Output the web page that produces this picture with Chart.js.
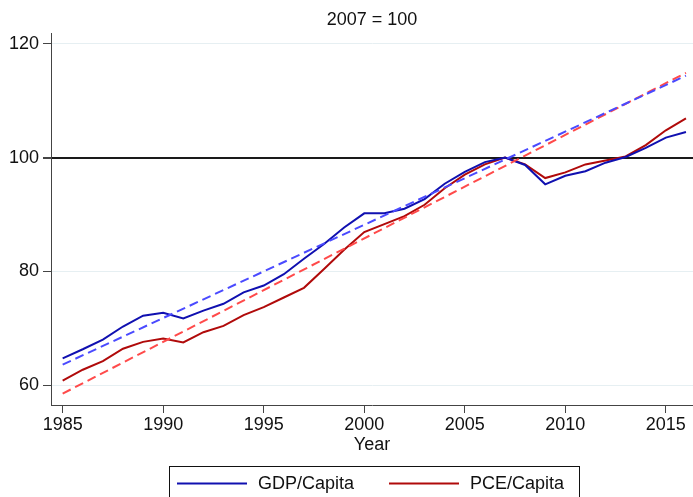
<!DOCTYPE html>
<html>
<head>
<meta charset="utf-8">
<script src="https://cdn.jsdelivr.net/npm/chart.js@4.4.1/dist/chart.umd.min.js"></script>
<style>
  body { margin: 0; background: #fff; }
  #wrap { width: 693px; height: 497px; }
</style>
</head>
<body>
<div id="wrap"><canvas id="chart" width="693" height="497"></canvas></div>
<script>
// Data (index, 2007 = 100)
const years = [1985, 1986, 1987, 1988, 1989, 1990, 1991, 1992, 1993, 1994,
               1995, 1996, 1997, 1998, 1999, 2000, 2001, 2002, 2003, 2004,
               2005, 2006, 2007, 2008, 2009, 2010, 2011, 2012, 2013, 2014,
               2015, 2016];
const gdpPerCapita = [64.7, 66.3, 68.0, 70.3, 72.2, 72.7, 71.7, 73.1, 74.3, 76.3,
                      77.5, 79.5, 82.2, 84.8, 87.7, 90.2, 90.2, 91.0, 92.7, 95.4,
                      97.5, 99.2, 100.0, 98.7, 95.3, 96.8, 97.6, 99.1, 100.1, 101.7,
                      103.5, 104.5];
const pcePerCapita = [60.8, 62.7, 64.2, 66.4, 67.6, 68.2, 67.5, 69.3, 70.4, 72.3,
                      73.7, 75.4, 77.1, 80.4, 83.8, 86.9, 88.3, 89.7, 91.7, 94.6,
                      97.0, 98.8, 100.0, 98.8, 96.4, 97.4, 98.8, 99.5, 100.2, 102.2,
                      104.8, 106.9];
// linear trend lines (end points)
const trendYears = [1985, 2016];
const gdpTrend = [63.6, 114.4];
const pceTrend = [58.5, 114.9];

const xTicks = [1985, 1990, 1995, 2000, 2005, 2010, 2015];
const yTicks = [60, 80, 100, 120];

const FONT = 'Liberation Sans, Arial, Helvetica, sans-serif';

function pts(xs, ys) {
    return xs.map((x, i) => ({ x: x, y: ys[i] }));
}

// title + boxed legend drawn by hand (Stata style)
const decorations = {
    id: 'decorations',
    afterDraw(chart) {
        const ctx = chart.ctx;
        const area = chart.chartArea;
        ctx.save();
        ctx.fillStyle = '#111';
        ctx.font = '18px ' + FONT;
        ctx.textAlign = 'center';
        ctx.textBaseline = 'middle';
        ctx.fillText('2007 = 100', (area.left + area.right) / 2, 20);

        // legend box
        ctx.strokeStyle = '#111';
        ctx.lineWidth = 1;
        ctx.strokeRect(169.5, 466.5, 410, 40);

        const items = [
            { ds: chart.data.datasets[0], x: 177 },
            { ds: chart.data.datasets[1], x: 389 }
        ];
        ctx.textAlign = 'left';
        items.forEach(it => {
            ctx.strokeStyle = it.ds.borderColor;
            ctx.lineWidth = 2;
            ctx.beginPath();
            ctx.moveTo(it.x, 483.5);
            ctx.lineTo(it.x + 70, 483.5);
            ctx.stroke();
            ctx.fillStyle = '#111';
            ctx.fillText(it.ds.label, it.x + 81, 484);
        });
        ctx.restore();
    }
};

new Chart(document.getElementById('chart'), {
    type: 'line',
    data: {
        datasets: [
            {
                label: 'GDP/Capita',
                data: pts(years, gdpPerCapita),
                borderColor: '#1010b0',
                borderWidth: 2,
                pointRadius: 0,
                tension: 0,
                order: 1
            },
            {
                label: 'PCE/Capita',
                data: pts(years, pcePerCapita),
                borderColor: '#b00a0a',
                borderWidth: 2,
                pointRadius: 0,
                tension: 0,
                order: 1
            },
            {
                label: 'GDP trend',
                data: pts(trendYears, gdpTrend),
                borderColor: '#4a4aff',
                borderWidth: 2,
                borderDash: [9, 5],
                pointRadius: 0,
                order: 0
            },
            {
                label: 'PCE trend',
                data: pts(trendYears, pceTrend),
                borderColor: '#ff4a4a',
                borderWidth: 2,
                borderDash: [9, 5],
                pointRadius: 0,
                order: 0
            }
        ]
    },
    options: {
        responsive: false,
        animation: false,
        devicePixelRatio: 1,
        layout: { padding: { top: 33, right: 0, bottom: 41, left: 0 } },
        plugins: {
            legend: { display: false },
            title: { display: false },
            tooltip: { enabled: false }
        },
        scales: {
            x: {
                type: 'linear',
                min: 1984.42,
                max: 2016.35,
                afterBuildTicks: (scale) => { scale.ticks = xTicks.map(v => ({ value: v })); },
                afterFit: (scale) => { scale.height = 51; },
                ticks: {
                    color: '#111',
                    font: { family: FONT, size: 18 },
                    padding: 1,
                    maxRotation: 0,
                    callback: (v) => String(v)
                },
                grid: {
                    drawOnChartArea: false,
                    drawTicks: true,
                    tickLength: 8,
                    tickColor: '#444'
                },
                border: { color: '#444', width: 1 },
                title: {
                    display: true,
                    text: 'Year',
                    color: '#111',
                    font: { family: FONT, size: 18 },
                    padding: 0
                }
            },
            y: {
                min: 56.5,
                max: 121.9,
                afterBuildTicks: (scale) => { scale.ticks = yTicks.map(v => ({ value: v })); },
                afterFit: (scale) => { scale.width = 51; },
                ticks: {
                    color: '#111',
                    font: { family: FONT, size: 18 },
                    padding: 4
                },
                grid: {
                    color: (c) => (c.tick && c.tick.value === 100 ? '#1a1a1a' : '#e6eff2'),
                    lineWidth: (c) => (c.tick && c.tick.value === 100 ? 2 : 1),
                    drawTicks: true,
                    tickLength: 8,
                    tickColor: '#444'
                },
                border: { color: '#444', width: 1 }
            }
        }
    },
    plugins: [decorations]
});
</script>
</body>
</html>
